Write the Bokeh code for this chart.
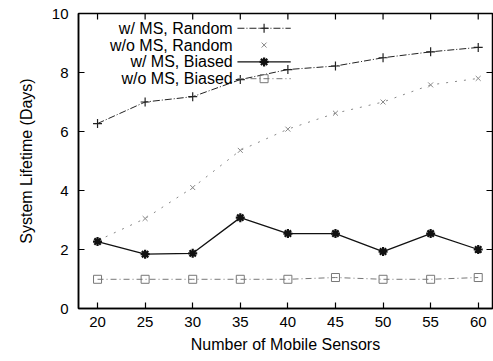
import math
from bokeh.plotting import figure
from bokeh.models import FixedTicker, Range1d, Label
from bokeh.embed import file_html
from bokeh.resources import INLINE

# Number of mobile sensors on the x axis
sensors = [20, 25, 30, 35, 40, 45, 50, 55, 60]

# System lifetime in days for each scenario
ms_random = [6.27, 7.0, 7.18, 7.76, 8.1, 8.22, 8.5, 8.7, 8.85]
noms_random = [2.3, 3.05, 4.1, 5.36, 6.08, 6.62, 7.0, 7.58, 7.8]
ms_biased = [2.27, 1.84, 1.87, 3.08, 2.54, 2.54, 1.93, 2.54, 2.0]
noms_biased = [0.99, 0.99, 0.99, 0.99, 0.99, 1.05, 0.99, 0.99, 1.05]

x_ticks = [20, 25, 30, 35, 40, 45, 50, 55, 60]
y_ticks = [0, 2, 4, 6, 8, 10]

X_MIN, X_MAX = 18, 61.5
Y_MIN, Y_MAX = 0, 10
FONT = "Liberation Sans"

p = figure(width=493, height=361, output_backend="svg", toolbar_location=None,
           x_range=Range1d(X_MIN, X_MAX), y_range=Range1d(Y_MIN, Y_MAX),
           min_border_left=78, min_border_right=1, min_border_top=13,
           min_border_bottom=53)
p.background_fill_color = "white"
p.border_fill_color = "white"
p.outline_line_color = "black"
p.outline_line_width = 1.5
p.grid.visible = False

for ax in (p.xaxis[0], p.yaxis[0]):
    ax.major_tick_in = 6
    ax.major_tick_out = 0
    ax.minor_tick_line_color = None
    ax.axis_line_width = 1.5
    ax.major_tick_line_width = 1.2
    ax.major_label_text_font = FONT
    ax.major_label_text_font_size = "15px"
    ax.major_label_text_color = "black"
    ax.axis_label_text_font = FONT
    ax.axis_label_text_font_size = "16px"
    ax.axis_label_text_font_style = "normal"
    ax.axis_label_text_color = "black"

p.xaxis[0].ticker = FixedTicker(ticks=x_ticks)
p.yaxis[0].ticker = FixedTicker(ticks=y_ticks)
p.xaxis[0].axis_label = "Number of Mobile Sensors"
p.yaxis[0].axis_label = "System Lifetime (Days)"
p.xaxis[0].major_label_standoff = 8
p.yaxis[0].major_label_standoff = 10
p.xaxis[0].axis_label_standoff = 6
p.yaxis[0].axis_label_standoff = 14

# Mirrored inward tick marks along the top and right edges
p.ray(x=x_ticks, y=[Y_MAX] * len(x_ticks), length=6, length_units="screen",
      angle=-math.pi / 2, line_color="black", line_width=1.2)
p.ray(x=[X_MAX] * len(y_ticks), y=y_ticks, length=6, length_units="screen",
      angle=math.pi, line_color="black", line_width=1.2)

# Series styles
styles = [
    dict(label="w/ MS, Random", y=ms_random, color="#222222", dash="7 2 1 2",
         lw=1.0, marker="cross", msize=9, mlw=1.2),
    dict(label="w/o MS, Random", y=noms_random, color="#888888", dash="2 7",
         lw=1.0, marker="x", msize=7, mlw=1.0),
    dict(label="w/ MS, Biased", y=ms_biased, color="#111111", dash="solid",
         lw=1.3, marker="asterisk", msize=9, mlw=2.2),
    dict(label="w/o MS, Biased", y=noms_biased, color="#777777", dash="6 3 1 3",
         lw=1.0, marker="square", msize=8, mlw=1.0),
]

for s in styles:
    p.line(sensors, s["y"], line_color=s["color"], line_width=s["lw"],
           line_dash=s["dash"])
    p.scatter(sensors, s["y"], marker=s["marker"], size=s["msize"],
              line_color=s["color"], line_width=s["mlw"], fill_color=None)

# Legend in the upper left: right-aligned labels followed by a sample
key_x0, key_x1, key_mid = 34.7, 40.3, 37.5
label_x = 34.2
rows_y = [9.5, 8.93, 8.36, 7.79]
for s, ry in zip(styles, rows_y):
    p.add_layout(Label(x=label_x, y=ry, text=s["label"], text_align="right",
                       text_baseline="middle", text_font=FONT,
                       text_font_size="16px", text_color="black"))
    if s["label"] != "w/o MS, Random":
        p.line([key_x0, key_x1], [ry, ry], line_color=s["color"],
               line_width=s["lw"], line_dash=s["dash"])
    p.scatter([key_mid], [ry], marker=s["marker"], size=s["msize"],
              line_color=s["color"], line_width=s["mlw"], fill_color=None)

open("out.html", "w").write(file_html(p, INLINE))
